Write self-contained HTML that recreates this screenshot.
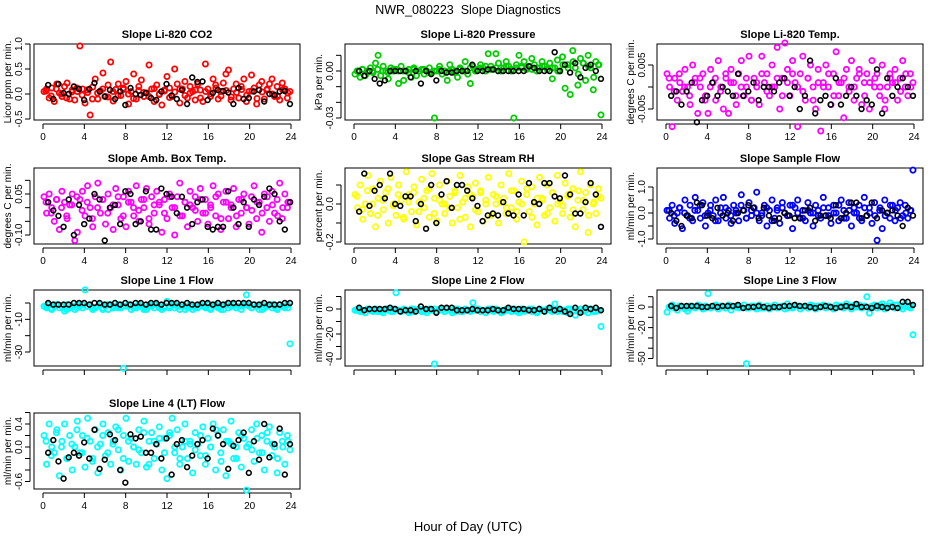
<!DOCTYPE html>
<html><head><meta charset="utf-8"><style>
html,body{margin:0;padding:0;background:#fff;}
svg{display:block;font-family:"Liberation Sans",Arial,sans-serif;}
</style></head><body>
<svg id="chart" width="936" height="540" viewBox="0 0 936 540" xmlns="http://www.w3.org/2000/svg">
<text x="468" y="14" text-anchor="middle" font-size="12.5" style="white-space:pre">NWR_080223  Slope Diagnostics</text>
<text x="468" y="531" text-anchor="middle" font-size="13">Hour of Day (UTC)</text>
</svg>
<script>
const panelTitles = ["Slope Li-820 CO2","Slope Li-820 Pressure","Slope Li-820 Temp.","Slope Amb. Box Temp.","Slope Gas Stream RH","Slope Sample Flow","Slope Line 1 Flow","Slope Line 2 Flow","Slope Line 3 Flow","Slope Line 4 (LT) Flow"];
const yTitles = ["Licor ppm per min.","kPa per min.","degrees C per min.","degrees C per min.","percent per min.","ml/min per min.","ml/min per min.","ml/min per min.","ml/min per min.","ml/min per min."];
const seriesColors = ["#ff0000","#00cc00","#ff00ff","#ff00ff","#ffff00","#0000ff","#00ffff","#00ffff","#00ffff","#00ffff"];
const xTicks = [0,4,8,12,16,20,24];
const yTickVals = [[-0.5,0,0.5,1],[-0.03,-0.02,-0.01,0,0.01],[-0.005,0,0.005],[-0.1,-0.05,0,0.05,0.1],[-0.2,-0.1,0,0.1],[-1,-0.5,0,0.5,1],[-30,-20,-10,0],[-40,-30,-20,-10,0,10],[-50,-40,-30,-20,-10,0,10],[-0.6,-0.4,-0.2,0,0.2,0.4,0.6]];
const yTickLabels = [["-0.5","0.0","0.5","1.0"],["-0.03","","","0.00",""],["-0.005","","0.005"],["-0.10","","","0.05",""],["-0.2","","0.0",""],["-1.0","","0.0","","1.0"],["-30","","-10",""],["-40","","-20","","0",""],["-50","","","-20","","0",""],["-0.6","","","0.0","","0.4",""]];
const yRefA = [[0,94],[0,71],[0,87],[0.05,194],[0,204],[0,213],[0,303],[0,309],[0,307],[0,447]];
const yRefB = [[0.5,69],[-0.03,118],[0.005,65],[-0.1,235],[-0.2,242],[1,187],[-30,352],[-40,359],[-50,358.5],[0.4,424]];

const colored1 = [0.05,0.1,-0.08,0.12,-0.15,0.2,0.02,-0.05,0.15,0.22,-0.1,0.08,-0.12,0.05,0.96,0.1,-0.18,0.03,-0.42,0.14,0.3,-0.1,0.06,0.42,-0.05,0.18,0.64,-0.14,0.09,0.2,-0.03,0.12,0.25,-0.2,0.05,0.4,-0.1,0.15,0.28,-0.05,0.02,0.58,0.1,-0.15,0.18,0.0,-0.22,0.08,0.35,0.12,-0.05,0.5,0.2,-0.18,0.1,0.25,-0.08,0.15,0.05,-0.12,0.2,0.08,-0.15,0.6,0.1,-0.05,0.3,0.18,-0.1,0.05,0.22,0.4,0.48,-0.12,0.1,0.2,-0.08,0.15,0.3,-0.15,0.05,0.38,0.12,-0.2,0.18,0.25,-0.1,0.08,0.2,0.3,-0.05,0.15,-0.12,0.22,0.1,-0.08,0.05];
const core1 = [0.06,-0.04,0.1,0.0,-0.08,0.04,0.12,-0.02,0.08,-0.1,0.02,0.1,-0.06,0.05,-0.03,0.09,0.0,-0.09,0.07,0.03,-0.05,0.11,-0.01,0.06,-0.07,0.04,0.1,-0.03,0.02,0.08,-0.08,0.05,0.0,0.12,-0.04,0.07,-0.06,0.03,0.09,-0.02,0.06,-0.09,0.04,0.1,0.0,-0.05,0.08,0.02];
const black1 = [0.18,-0.1,0.2,0.02,0.0,0.15,0.1,-0.12,0.1,0.22,0.05,-0.05,0.08,-0.1,0.05,-0.22,0.12,0.0,-0.02,0.02,-0.08,-0.12,0.05,0.2,-0.03,-0.1,0.08,-0.2,0.33,0.24,0.25,-0.12,0.02,0.08,0.06,0.03,-0.2,0.12,-0.1,-0.08,0.05,0.08,-0.15,0.0,-0.02,0.05,0.06,-0.2];
const colored2 = [-0.002,0.0,-0.004,0.001,-0.003,0.0,0.002,-0.001,0.005,0.01,-0.003,0.003,0.0,-0.005,0.002,0.0,0.001,-0.008,0.003,-0.006,0.0,0.001,-0.004,0.002,-0.003,0.0,0.001,-0.002,0.0,0.002,-0.001,-0.03,0.0,0.003,-0.002,0.0,-0.006,0.004,0.001,0.0,-0.004,0.002,0.0,0.006,-0.002,-0.008,0.003,0.0,0.001,0.004,0.002,0.0,0.011,0.003,0.001,0.011,0.005,0.0,0.002,0.006,0.003,0.0,-0.03,0.004,0.01,0.002,0.006,0.001,0.003,0.008,0.004,0.0,0.002,0.006,0.003,0.001,0.005,-0.005,0.002,0.007,0.0,0.009,-0.011,0.004,-0.015,0.013,0.002,-0.009,0.008,0.005,-0.006,0.01,0.002,-0.012,0.006,0.004,-0.028];
const core2 = [0.0,0.001,-0.001,0.0,0.001,0.0,-0.001,0.001,0.0,0.0,-0.001,0.001,0.0,0.001,-0.001,0.0,0.001,0.0,0.0,-0.001,0.001,0.0,0.002,0.001,0.002,0.003,0.001,0.002,0.002,0.003,0.001,0.002,0.003,0.002,0.001,0.002,0.003,0.001,0.002,0.0,0.004,0.002,0.006,-0.002,0.005,0.003,-0.004,0.004];
const black2 = [0.0,-0.003,0.0,-0.005,-0.008,-0.006,0.0,0.0,0.0,0.0,-0.004,0.0,-0.008,0.0,-0.002,-0.006,0.0,-0.001,-0.001,0.0,0.0,0.0,0.004,0.0,0.0,0.001,0.001,0.0,0.0,0.0,0.0,0.0,0.0,0.003,0.002,0.0,0.0,0.0,0.012,0.0,0.004,-0.001,0.005,-0.004,0.002,0.004,0.0,-0.005];
const colored3 = [0.003,0.0,-0.009,0.002,-0.003,0.001,-0.001,0.004,0.0,-0.004,0.005,0.002,-0.006,0.0,0.003,-0.002,-0.006,0.004,0.001,-0.003,0.006,0.0,-0.005,0.002,-0.006,0.004,0.001,-0.004,0.003,0.006,-0.002,0.0,0.007,-0.003,0.002,0.0,-0.004,0.007,0.001,0.003,-0.002,0.005,0.0,0.009,-0.005,0.002,0.01,0.004,-0.002,0.006,0.001,-0.009,0.003,0.007,-0.003,0.002,0.005,0.0,-0.005,0.004,-0.01,0.001,0.005,0.0,-0.004,0.003,0.008,-0.002,0.001,-0.007,0.004,0.0,0.006,-0.003,0.002,0.004,-0.004,0.001,0.003,-0.005,0.006,0.0,0.003,-0.002,0.005,-0.005,0.0,0.003,0.001,0.004,-0.003,0.002,0.006,0.0,-0.002,0.003,0.001];
const core3 = [0.002,-0.001,0.003,0.0,-0.002,0.001,0.002,-0.003,0.0,0.002,-0.001,0.003,0.001,-0.002,0.0,0.002,-0.003,0.001,0.003,-0.001,0.0,0.002,-0.002,0.001,0.003,0.0,-0.001,0.002,-0.003,0.001,0.0,0.003,-0.002,0.001,0.002,-0.001,0.0,0.003,-0.002,0.001,0.002,0.0,-0.003,0.002,0.001,-0.001,0.003,0.0];
const black3 = [-0.002,-0.001,-0.004,-0.001,0.001,-0.008,-0.003,-0.002,0.001,-0.002,0.0,-0.001,-0.002,0.003,-0.002,-0.001,0.001,-0.003,0.0,0.0,-0.001,0.001,0.002,-0.002,0.0,-0.005,-0.002,0.006,-0.006,-0.003,-0.002,-0.004,0.002,-0.004,-0.002,0.0,-0.002,-0.005,-0.003,-0.004,0.004,-0.006,0.002,-0.002,0.0,0.002,0.0,-0.002];
const colored4 = [0.04,-0.02,0.05,0.0,-0.05,0.03,-0.08,0.06,0.02,-0.04,0.01,0.05,-0.12,-0.09,0.03,0.06,-0.03,0.08,0.0,-0.07,0.04,0.09,-0.02,0.03,-0.06,0.05,0.0,-0.08,0.07,0.01,-0.04,0.04,-0.07,0.06,0.02,-0.03,0.08,-0.05,0.03,0.0,0.07,-0.06,0.04,-0.02,0.06,0.01,-0.09,0.03,-0.04,0.05,0.0,-0.1,0.04,0.09,-0.03,0.02,-0.07,0.06,0.0,0.04,-0.05,0.07,-0.02,0.03,-0.06,0.01,0.08,-0.03,0.05,-0.08,0.02,0.06,-0.04,0.0,0.07,-0.07,0.03,-0.02,0.05,0.0,-0.06,0.04,0.08,-0.04,0.02,-0.09,0.05,0.0,-0.05,0.06,-0.02,0.03,0.09,-0.04,0.05,0.0,0.02];
const core4 = [0.02,-0.02,0.03,0.0,-0.03,0.01,0.04,-0.01,0.02,-0.04,0.0,0.03,-0.02,0.01,0.04,-0.03,0.02,0.0,-0.01,0.03,-0.04,0.01,0.02,-0.02,0.04,0.0,-0.03,0.02,0.01,-0.01,0.03,-0.02,0.0,0.04,-0.04,0.02,0.01,-0.03,0.03,0.0,-0.01,0.02,-0.02,0.04,0.01,-0.03,0.0,0.02];
const black4 = [0.02,-0.01,-0.03,-0.07,0.03,-0.1,0.01,-0.06,-0.04,0.05,0.03,-0.12,0.0,0.01,-0.06,0.06,0.05,-0.06,-0.05,0.06,-0.08,-0.08,0.07,0.05,0.04,-0.02,0.04,0.0,-0.06,0.02,0.03,-0.07,-0.08,-0.07,-0.07,0.06,0.0,-0.06,0.02,-0.07,0.03,0.01,0.04,0.07,0.05,-0.05,-0.08,0.02];
const colored5 = [0.05,-0.02,0.1,-0.08,0.0,0.15,-0.05,0.08,-0.12,0.03,0.12,-0.03,0.06,-0.1,0.14,0.0,-0.06,0.1,0.02,-0.08,0.17,0.05,-0.04,0.09,-0.11,0.01,0.13,-0.02,0.07,-0.07,0.16,0.03,-0.09,0.1,0.0,-0.05,0.12,0.04,-0.1,0.06,-0.02,0.15,0.01,-0.07,0.09,-0.12,0.04,0.11,-0.04,0.07,-0.09,0.02,0.14,-0.06,0.05,0.0,-0.1,0.1,0.03,-0.05,0.16,-0.02,0.07,-0.08,0.01,0.12,-0.2,0.05,-0.04,0.09,0.0,-0.11,0.14,0.03,-0.06,0.1,-0.02,0.06,-0.09,0.15,0.01,-0.05,0.11,0.04,-0.07,0.08,-0.12,0.02,0.17,-0.03,0.06,-0.15,0.1,0.0,-0.05,0.08,0.03];
const core5 = [0.04,-0.03,0.07,0.0,-0.06,0.02,0.08,-0.01,0.05,-0.07,0.01,0.06,-0.04,0.03,0.08,-0.05,0.02,0.0,-0.02,0.07,-0.08,0.03,0.05,-0.03,0.06,0.0,-0.06,0.04,0.01,-0.02,0.07,-0.04,0.0,0.08,-0.07,0.03,0.02,-0.05,0.06,0.0,-0.01,0.05,-0.03,0.07,0.02,-0.06,0.01,0.04];
const black5 = [-0.04,0.16,-0.01,0.07,0.1,0.03,0.16,0.0,-0.01,0.04,0.04,-0.09,0.0,-0.13,0.1,-0.1,0.05,0.12,-0.02,0.1,0.1,0.07,0.03,-0.01,-0.09,-0.06,-0.05,-0.06,0.01,-0.05,-0.06,0.05,-0.06,0.11,0.01,0.0,0.11,0.11,0.04,0.03,0.15,0.05,-0.05,-0.05,0.01,0.11,0.05,-0.12];
const colored6 = [0.1,-0.2,0.3,-0.4,0.0,0.2,-0.6,0.5,-0.1,0.3,-0.3,0.6,0.1,-0.2,0.4,-0.5,0.0,0.3,-0.1,0.5,-0.3,0.2,0.6,-0.2,0.1,-0.4,0.3,0.0,-0.3,0.7,0.1,-0.2,0.4,-0.1,0.2,0.8,-0.3,0.0,0.3,-0.5,0.1,0.5,-0.2,0.2,-0.4,0.4,0.0,-0.1,0.3,-0.6,0.2,0.5,-0.2,0.1,-0.3,0.4,0.0,-0.5,0.3,0.1,-0.2,0.6,-0.1,0.2,-0.4,0.3,0.0,-0.3,0.5,0.1,-0.2,0.4,-0.5,0.2,0.0,0.3,-0.3,0.6,-0.1,0.2,-0.4,0.4,-1.05,0.1,-0.6,0.5,0.0,-0.2,0.3,-0.3,0.2,0.4,-0.1,0.3,-0.2,0.1,1.65];
const core6 = [0.1,-0.1,0.2,0.0,-0.2,0.1,0.3,-0.1,0.1,-0.3,0.0,0.2,-0.1,0.1,0.3,-0.2,0.1,0.0,-0.1,0.2,-0.3,0.1,0.2,-0.1,0.3,0.0,-0.2,0.1,0.0,-0.1,0.2,-0.1,0.0,0.3,-0.2,0.1,0.0,-0.2,0.2,0.0,-0.1,0.2,-0.1,0.3,0.1,-0.2,0.0,0.1];
const black6 = [0.0,-0.3,-0.5,-0.1,-0.2,0.4,0.3,-0.1,-0.2,0.2,-0.1,0.0,-0.3,0.0,0.1,0.3,0.2,-0.2,0.2,-0.1,-0.3,-0.2,0.0,-0.1,-0.2,-0.2,0.1,0.2,-0.3,-0.1,-0.1,-0.2,0.3,-0.2,0.0,0.4,0.4,-0.2,-0.1,0.4,-0.2,0.1,0.0,0.1,-0.1,-0.5,0.2,-0.1];
const colored7 = [-2,-3,-1,-4,-2,-1,-3,-2,-5,-1,-3,-2,-4,-1,-2,-3,8,-2,-1,-4,-3,-2,-1,-3,-2,-4,-1,-3,-2,-1,-3,-40,-2,-1,-4,-2,-3,-1,-2,-3,-4,-1,-2,-3,-1,-2,-4,-3,1,-2,-1,-3,-2,-4,-1,-2,-3,-1,-4,-2,-3,-1,-2,-3,-1,-4,-2,-1,-3,-2,-4,-1,-3,-2,-1,-3,-2,-4,-1,5,-2,-3,-1,-2,-4,-1,-3,-2,-1,-3,-2,-4,-1,-2,-3,-1,-25];
const core7 = [-2,-3,-1,-2,-4,-2,-3,-1,-2,-3,-2,-4,-1,-2,-3,-2,-1,-3,-2,-4,-2,-1,-3,-2,-3,-1,-2,-4,-2,-3,-1,-2,-3,-2,-4,-1,-2,-3,-2,-1,-3,-2,-4,-2,-1,-3,-2,-3];
const black7 = [0,-1,-1,-1,-1,0,0,0,-1,0,0,-1,-1,0,-1,0,-1,0,0,-1,0,0,-1,0,0,0,-1,0,-1,-1,0,0,-1,0,-1,0,0,0,0,0,-1,-1,0,-1,-1,-1,0,0];
const colored8 = [-1,0,-2,-1,-3,0,-1,-2,0,-1,-2,-3,0,-1,-2,0,13,-1,-2,0,-1,-3,0,-2,-1,0,-2,-1,-3,0,-1,-44,-2,0,-1,-2,0,-1,-3,-2,0,-1,-2,0,-1,-2,5,-1,0,-2,-1,-3,0,-1,-2,0,-1,-3,-2,0,-1,-2,0,-1,-3,0,-2,-1,0,-2,-1,-3,0,-1,-2,0,-1,-2,4,-1,0,-2,-1,-3,0,-2,-5,-1,0,-2,-1,-3,0,-1,-2,-1,-14];
const core8 = [-1,-2,0,-1,-2,-1,0,-2,-1,-1,-2,0,-1,-2,-1,0,-1,-2,-1,0,-2,-1,-1,0,-2,-1,0,-1,-2,-1,0,-2,-1,-1,0,-2,-1,0,-1,-2,-1,0,-1,-2,-1,0,-2,-1];
const black8 = [1,-1,0,0,0,0,1,0,-2,-1,-1,-2,2,0,0,-3,1,1,1,-1,-1,-1,0,-1,-1,-1,0,-1,-1,1,0,0,0,-1,-1,0,-2,1,-1,0,-2,-4,1,-3,1,0,1,-1];
const colored9 = [-5,0,2,-1,-3,1,0,-2,-4,1,0,-1,2,0,-2,1,13,-1,0,2,-2,1,0,-1,2,-3,0,1,-1,0,2,-55,-1,0,1,-2,2,0,-1,1,-2,0,2,-1,0,1,-2,3,0,-1,2,1,-2,0,1,-1,2,0,-2,1,0,2,-1,1,0,-2,2,0,1,-1,3,0,-2,1,0,2,-1,0,10,-6,1,2,-1,0,3,-2,1,4,0,-1,2,1,-2,3,0,-1,-27];
const core9 = [0,-1,1,0,-1,0,1,-1,0,1,0,-1,1,0,0,-1,1,0,-1,1,0,0,1,-1,0,1,0,-1,1,0,1,0,-1,1,0,1,2,0,1,-1,1,2,0,1,2,0,1,1];
const black9 = [1,-1,1,1,1,1,0,0,1,0,1,1,1,2,-1,0,0,1,0,-1,0,0,1,1,2,1,1,0,-1,0,1,0,-1,0,1,0,3,0,0,-1,1,0,-1,0,-1,5,5,2];
const colored10 = [0.2,-0.3,0.4,0.0,-0.1,0.3,-0.5,0.1,0.4,-0.2,0.2,-0.4,0.0,0.45,-0.1,0.2,-0.35,0.5,0.1,-0.2,0.3,-0.45,0.05,0.4,-0.15,0.25,-0.3,0.1,0.35,-0.05,-0.4,0.2,0.5,-0.25,0.15,0.0,-0.3,0.3,-0.1,0.45,-0.35,0.1,0.25,-0.2,0.05,0.35,-0.4,0.15,-0.55,0.2,0.5,-0.1,0.3,-0.3,0.0,0.4,-0.2,0.1,-0.45,0.25,0.05,-0.15,0.35,-0.3,0.15,0.0,0.4,-0.4,0.2,-0.1,0.3,-0.5,0.1,0.45,-0.2,0.0,0.25,-0.35,0.15,-0.75,0.05,0.3,-0.25,0.4,-0.1,0.2,-0.4,0.1,0.35,-0.15,0.0,-0.45,0.25,0.1,-0.3,0.2,-0.05];
const core10 = [0.1,-0.15,0.25,0.0,-0.2,0.05,0.3,-0.1,0.15,-0.25,0.0,0.2,-0.1,0.05,0.3,-0.2,0.1,0.0,-0.05,0.25,-0.3,0.1,0.15,-0.1,0.25,0.0,-0.2,0.1,0.05,-0.05,0.2,-0.15,0.0,0.3,-0.25,0.1,0.05,-0.2,0.2,0.0,-0.05,0.15,-0.1,0.25,0.05,-0.2,0.0,0.1];
const black10 = [-0.1,0.12,-0.25,-0.55,-0.18,-0.1,-0.15,0.08,-0.2,0.3,-0.38,-0.22,0.22,0.12,-0.4,-0.62,0.22,0.15,0.18,-0.1,-0.1,0.05,-0.2,0.15,-0.48,0.05,0.12,-0.35,-0.15,0.05,0.12,-0.2,0.32,0.2,0.05,-0.38,0.02,0.12,0.25,-0.45,0.1,-0.22,0.4,-0.18,0.05,0.32,-0.48,0.05];
const coloredSeries = [colored1,colored2,colored3,colored4,colored5,colored6,colored7,colored8,colored9,colored10];
const coreSeries = [core1,core2,core3,core4,core5,core6,core7,core8,core9,core10];
const blackSeries = [black1,black2,black3,black4,black5,black6,black7,black8,black9,black10];

const NS = "http://www.w3.org/2000/svg";
const svg = document.getElementById("chart");
const colLeft = [34,345,657];
const rowTop = [44,168,290,413];
const boxW = 266, boxH = 76;
function mk(tag, attrs, parent){const e=document.createElementNS(NS,tag);for(const k in attrs)e.setAttribute(k,attrs[k]);(parent||svg).appendChild(e);return e;}

for (let p = 0; p < 10; p++) {
  const col = p % 3, row = Math.floor(p / 3);
  const L = colLeft[col], T = rowTop[row];
  const xScale = h => L + 9 + h * 248 / 24;
  const a = yRefA[p], b = yRefB[p];
  const k = (b[1] - a[1]) / (b[0] - a[0]);
  const yScale = v => a[1] + (v - a[0]) * k;
  const g = mk("g", {});
  
  
  const box = mk("rect", {x:L, y:T, width:boxW, height:boxH, fill:"none", stroke:"#000", "stroke-width":1}, g);
  
  
  const ttl = mk("text", {x:L + boxW/2, y:T - 6, "text-anchor":"middle", "font-size":11, "font-weight":"bold"}, g);
  ttl.textContent = panelTitles[p];
  
  
  const yt = mk("text", {x:L - 23, y:T + boxH/2, "text-anchor":"middle", "font-size":10, transform:`rotate(-90 ${L-23} ${T+boxH/2})`}, g);
  yt.textContent = yTitles[p];
  
  
  const xa = mk("g", {}, g);
  
  
  mk("line", {x1:xScale(xTicks[0]), x2:xScale(xTicks[xTicks.length-1]), y1:T+boxH+4, y2:T+boxH+4, stroke:"#000"}, xa);
  xTicks.forEach(t => {
    mk("line", {x1:xScale(t), x2:xScale(t), y1:T+boxH+4, y2:T+boxH+9, stroke:"#000"}, xa);
    if (row !== 2) {
      const tl = mk("text", {x:xScale(t), y:T+boxH+20, "text-anchor":"middle", "font-size":10}, xa);
      tl.textContent = t;
      
      
    }
  });
  const ya = mk("g", {}, g);
  
  
  const tv = yTickVals[p];
  mk("line", {x1:L-4, x2:L-4, y1:yScale(tv[0]), y2:yScale(tv[tv.length-1]), stroke:"#000"}, ya);
  tv.forEach((t, i) => {
    const yy = yScale(t);
    mk("line", {x1:L-9, x2:L-4, y1:yy, y2:yy, stroke:"#000"}, ya);
    if (yTickLabels[p][i]) {
      const tl = mk("text", {x:L-12, y:yy, "text-anchor":"middle", "font-size":10, transform:`rotate(-90 ${L-12} ${yy})`}, ya);
      tl.textContent = yTickLabels[p][i];
      
      
    }
  });
  const cg = mk("g", {fill:"none", stroke:seriesColors[p], "stroke-width":1.8}, g);
  
  
  const cr = coreSeries[p];
  cr.forEach((v, i) => {
    const h = 0.3 + 23.4 * i / (cr.length - 1);
    const c = mk("circle", {cx:xScale(h), cy:yScale(v), r:2.6}, cg);
    
    
  });
  const cs = coloredSeries[p];
  cs.forEach((v, i) => {
    const h = 0.1 + 23.8 * i / (cs.length - 1);
    const c = mk("circle", {cx:xScale(h), cy:yScale(v), r:2.6}, cg);
    
    
  });
  const bs = blackSeries[p];
  const bg = mk("g", {fill:"none", stroke:"#000", "stroke-width":1.6}, g);
  
  
  bs.forEach((v, i) => {
    const h = 0.5 + 23.4 * i / (bs.length - 1);
    const c = mk("circle", {cx:xScale(h), cy:yScale(v), r:2.4}, bg);
    
    
  });
}
</script>
</body></html>
